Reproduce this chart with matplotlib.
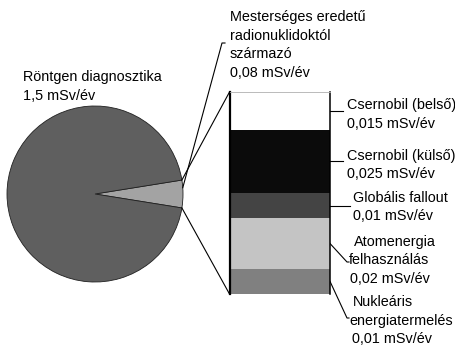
import matplotlib
matplotlib.use("Agg")
import matplotlib.pyplot as plt
import numpy as np

plt.rcParams['font.family'] = ['Liberation Sans', 'DejaVu Sans']
plt.rcParams['font.size'] = 10.4

# Annual dose: medical X-ray vs. artificial radionuclides (mSv/év)
pie_names = ["Röntgen diagnosztika",
             "Mesterséges eredetű radionuklidoktól származó"]
pie_values = [1.5, 0.08]
pie_colors = ["#5f5f5f", "#a3a3a3"]

# Breakdown of the artificial part, stacked bottom to top
part_names = ["Nukleáris energiatermelés", "Atomenergia felhasználás",
              "Globális fallout", "Csernobil (külső)", "Csernobil (belső)"]
part_values = [0.01, 0.02, 0.01, 0.025, 0.015]
part_colors = ["#808080", "#c4c4c4", "#444444", "#0b0b0b", "#ffffff"]
unit = "mSv/év"


def fmt(v):
    return f"{v:g}".replace(".", ",") + " " + unit


W, H = 455, 346
fig = plt.figure(figsize=(W / 100, H / 100), dpi=100)

# full-figure axes in pixel units for the pie, text and connector lines
ax = fig.add_axes([0, 0, 1, 1])
cx, cy, R = 95, 194, 88
small_frac = pie_values[1] / sum(pie_values)
wedges, _ = ax.pie(pie_values[::-1], colors=pie_colors[::-1],
                   startangle=-small_frac * 180, center=(cx, cy), radius=R,
                   wedgeprops=dict(edgecolor="#202020", linewidth=0.6))
ax.set_xlim(0, W)
ax.set_ylim(H, 0)
ax.set_aspect("auto")
ax.axis("off")

small = wedges[0]


def on_rim(theta):
    t = np.deg2rad(theta)
    return cx + R * np.cos(t), cy + R * np.sin(t)


w_top = on_rim(small.theta1)
w_bot = on_rim(small.theta2)

# stacked bar with the components
bx0, bx1, by0, by1 = 229.5, 330, 92, 294
bax = fig.add_axes([bx0 / W, (H - by1) / H, (bx1 - bx0) / W, (by1 - by0) / H])
bottoms = np.concatenate([[0], np.cumsum(part_values)[:-1]])
total = sum(part_values)
bax.bar(0, part_values, bottom=bottoms, width=1, color=part_colors,
        edgecolor="none")
bax.set_xlim(-0.5, 0.5)
bax.set_ylim(0, total)
bax.set_xticks([])
bax.set_yticks([])
bax.spines["left"].set_linewidth(1.6)
bax.spines["right"].set_linewidth(1.1)
bax.spines["top"].set_color("#b0b0b0")
bax.spines["top"].set_linewidth(0.6)
bax.spines["bottom"].set_visible(False)


def to_px(x, y):
    return ax.transData.inverted().transform(bax.transData.transform((x, y)))


lw = 0.8
b_tl = to_px(-0.5, total)
b_bl = to_px(-0.5, 0)
ax.plot([w_top[0], b_tl[0]], [w_top[1], b_tl[1]], color="black", lw=lw)
ax.plot([w_bot[0], b_bl[0]], [w_bot[1], b_bl[1]], color="black", lw=lw)

# pie labels
ax.text(23, 81, pie_names[0], ha="left", va="baseline")
ax.text(23, 99.5, fmt(pie_values[0]), ha="left", va="baseline")

art_lines = ["Mesterséges eredetű", "radionuklidoktól", "származó",
             fmt(pie_values[1])]
for i, s in enumerate(art_lines):
    ax.text(230, 21 + 18.7 * i, s, ha="left", va="baseline")
rim = on_rim(small.theta1 * 0.45)
ax.plot([225, 222, rim[0]], [43, 43, rim[1]], color="black", lw=lw)

# component labels: line breaks, x of each line, first baseline, leader path
part_lines = [["Nukleáris", "energiatermelés"], ["Atomenergia", "felhasználás"],
              ["Globális fallout"], ["Csernobil (külső)"], ["Csernobil (belső)"]]
part_text_x = [[353, 349, 352], [354, 349, 350], [353, 353], [347, 347],
               [347, 347]]
part_baseline = [306, 246, 202, 160, 109.5]
part_leader = [[(347, 318), (349, 318)], [(347, 262), (349, 262)],
               [(350, None)], [(343, None)], [(343, None)]]

for i, v in enumerate(part_values):
    lines = part_lines[i] + [fmt(v)]
    for j, s in enumerate(lines):
        ax.text(part_text_x[i][j], part_baseline[i] + 18.5 * j, s,
                ha="left", va="baseline")
    sx, sy = to_px(0.5, bottoms[i] + v / 2)
    xs, ys = [sx], [sy]
    for px, py in part_leader[i]:
        xs.append(px)
        ys.append(sy if py is None else py)
    ax.plot(xs, ys, color="black", lw=lw)

fig.savefig("out.png", dpi=100)
